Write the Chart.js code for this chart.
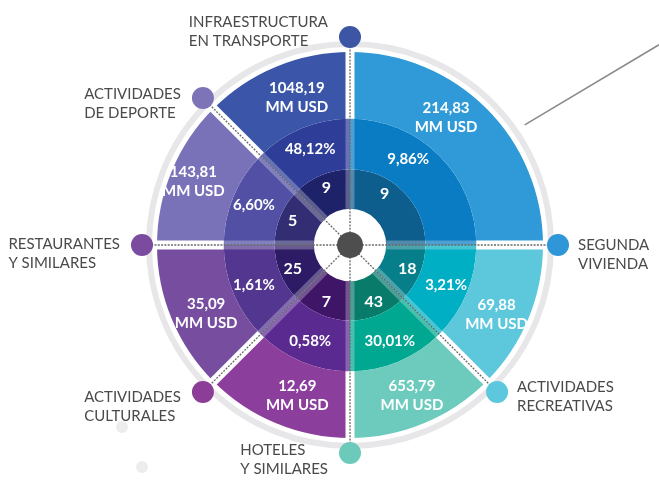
<!DOCTYPE html>
<html>
<head>
<meta charset="utf-8">
<script src="https://cdn.jsdelivr.net/npm/chart.js@4.4.1/dist/chart.umd.min.js"></script>
<style>
  html, body { margin: 0; padding: 0; background: #fff; }
  #wrap { width: 659px; height: 485px; }
</style>
</head>
<body>
<div id="wrap"><canvas id="chart"></canvas></div>
<script>
// Categorías desde las 12 en punto, en sentido horario
const categorias = [
  ['SEGUNDA', 'VIVIENDA'],
  ['ACTIVIDADES', 'RECREATIVAS'],
  ['HOTELES', 'Y SIMILARES'],
  ['ACTIVIDADES', 'CULTURALES'],
  ['RESTAURANTES', 'Y SIMILARES'],
  ['ACTIVIDADES', 'DE DEPORTE'],
  ['INFRAESTRUCTURA', 'EN TRANSPORTE']
];
const gastoMMUSD = [214.83, 69.88, 653.79, 12.69, 35.09, 143.81, 1048.19];
const participacion = [9.86, 3.21, 30.01, 0.58, 1.61, 6.60, 48.12];
const proyectos = [9, 18, 43, 7, 25, 5, 9];

// ancho de cada sector en grados (segunda vivienda ocupa un cuarto)
const sectorSpan = [90, 45, 45, 45, 45, 45, 45];

const colExterior = ['#2f9ad7', '#5dc8dc', '#6ccbbc', '#8b3e9c', '#774da0', '#7a72b9', '#3b56a8'];
const colMedio    = ['#0a7cc3', '#00afc3', '#00a892', '#5b2a90', '#52368f', '#5150a5', '#2d3d98'];
const colInterior = ['#0d5d8d', '#077f8b', '#087b6b', '#3e1567', '#2e1b66', '#332e74', '#1e2269'];
const colMarca    = ['#2f96d7', '#5dc7dd', '#6ccabb', '#8b3d97', '#7a4b9f', '#7d73b7', '#3d55a5'];

const fmt = v => v.toFixed(2).replace('.', ',');

const rad = d => d * Math.PI / 180;

const ringArt = {
  id: 'ringArt',
  beforeDatasetsDraw(chart) {
    const el = chart.getDatasetMeta(0).data[0];
    const ctx = chart.ctx;
    ctx.save();
    // aro gris exterior
    ctx.beginPath();
    ctx.arc(el.x, el.y, el.outerRadius + 8, 0, Math.PI * 2);
    ctx.strokeStyle = '#e7e7e9';
    ctx.lineWidth = 6;
    ctx.stroke();
    // línea guía hacia la derecha
    const a0 = rad(-90 + 55.5);
    const sx = el.x + Math.cos(a0) * (el.outerRadius + 19);
    const sy = el.y + Math.sin(a0) * (el.outerRadius + 19);
    ctx.beginPath();
    ctx.moveTo(sx, sy);
    ctx.lineTo(chart.width, sy - (chart.width - sx) * 0.597);
    ctx.strokeStyle = '#8a8a8a';
    ctx.lineWidth = 1.5;
    ctx.stroke();
    // puntos decorativos
    ctx.fillStyle = '#ededed';
    [[122, 427], [142, 467]].forEach(([px, py]) => {
      ctx.beginPath();
      ctx.arc(px, py, 6, 0, Math.PI * 2);
      ctx.fill();
    });
    ctx.restore();
  },
  afterDatasetsDraw(chart, args, opts) {
    const ctx = chart.ctx;
    const outer = chart.getDatasetMeta(0).data;
    const mid = chart.getDatasetMeta(1).data;
    const inner = chart.getDatasetMeta(2).data;
    const {x, y} = outer[0];
    const rOut = outer[0].outerRadius;
    const rMid = outer[0].innerRadius;
    const rIn = inner[0].innerRadius;
    const rMark = rOut + 15;
    const ray = (a, r) => [x + Math.cos(a) * r, y + Math.sin(a) * r];
    const seg = (p, q) => {
      ctx.beginPath();
      ctx.moveTo(p[0], p[1]);
      ctx.lineTo(q[0], q[1]);
      ctx.stroke();
    };
    ctx.save();

    // separaciones entre sectores
    outer.forEach(el => {
      const a = el.startAngle;
      ctx.lineWidth = 9;
      ctx.strokeStyle = 'rgba(255,255,255,0.28)';
      seg(ray(a, rIn), ray(a, rMid));
      ctx.strokeStyle = '#fff';
      seg(ray(a, rMid), ray(a, rOut + 1));
      ctx.setLineDash([2, 1.3]);
      ctx.lineWidth = 1.3;
      ctx.strokeStyle = '#6a6a6a';
      seg(ray(a, 12), ray(a, rMark));
      ctx.setLineDash([]);
    });

    // punto central
    ctx.beginPath();
    ctx.arc(x, y, 13, 0, Math.PI * 2);
    ctx.fillStyle = '#4e4e4e';
    ctx.fill();

    // marcadores y nombres de categoría
    ctx.textBaseline = 'middle';
    outer.forEach((el, i) => {
      const [mx, my] = ray(el.endAngle, rMark);
      ctx.beginPath();
      ctx.arc(mx, my, 11, 0, Math.PI * 2);
      ctx.fillStyle = colMarca[i];
      ctx.fill();

      ctx.font = '15px Lato';
      ctx.fillStyle = '#4a4a4a';
      ctx.textAlign = 'left';
      const lines = categorias[i];
      const w = Math.max(...lines.map(t => ctx.measureText(t).width));
      const left = mx > x + 5 ? mx + 20 : mx - 22 - w;
      const dy = opts.nameDy[i];
      lines.forEach((t, k) => ctx.fillText(t, left, my + dy + k * 19));
    });

    // valores dentro de los anillos
    const spot = (el, frac) => el.startAngle + (el.endAngle - el.startAngle) * frac;
    const lim = el => Math.min((el.endAngle - el.startAngle) / 2, rad(34));
    ctx.fillStyle = '#fff';
    ctx.textAlign = 'center';
    outer.forEach((el, i) => {
      const [frac, r] = opts.outerSpot[i];
      const [px, py] = ray(spot(el, frac), r);
      ctx.font = 'bold 15px Lato';
      ctx.fillText(fmt(gastoMMUSD[i]), px, py - 9);
      ctx.fillText('MM USD', px, py + 10);
    });
    mid.forEach((el, i) => {
      const [px, py] = ray(el.startAngle + lim(el), 104);
      ctx.font = 'bold 15px Lato';
      ctx.fillText(fmt(participacion[i]) + '%', px, py);
    });
    inner.forEach((el, i) => {
      const [px, py] = ray(el.startAngle + lim(el), 62);
      ctx.font = 'bold 16px Lato';
      ctx.fillText(String(proyectos[i]), px, py);
    });
    ctx.restore();
  }
};

const ctx = document.getElementById('chart').getContext('2d');
const chart = new Chart(ctx, {
  type: 'doughnut',
  data: {
    labels: categorias.map(c => c.join(' ')),
    datasets: [
      { data: sectorSpan, backgroundColor: colExterior, borderWidth: 0, weight: 63 },
      { data: sectorSpan, backgroundColor: colMedio, borderWidth: 0, weight: 48 },
      { data: sectorSpan, backgroundColor: colInterior, borderWidth: 0, weight: 37 }
    ]
  },
  options: {
    responsive: true,
    maintainAspectRatio: false,
    animation: false,
    radius: 193,
    cutout: 45,
    layout: { padding: { left: 41, right: 0, top: 5, bottom: 0 } },
    plugins: {
      legend: { display: false },
      tooltip: { enabled: false },
      ringArt: {
        nameDy: [0, -5, -3, 5, -1, -4, -15],
        outerSpot: [[0.41, 160], [0.56, 162], [0.5, 162], [0.43, 159], [0.44, 159], [0.49, 169], [0.56, 157]]
      }
    }
  },
  plugins: [ringArt]
});
</script>
</body>
</html>
